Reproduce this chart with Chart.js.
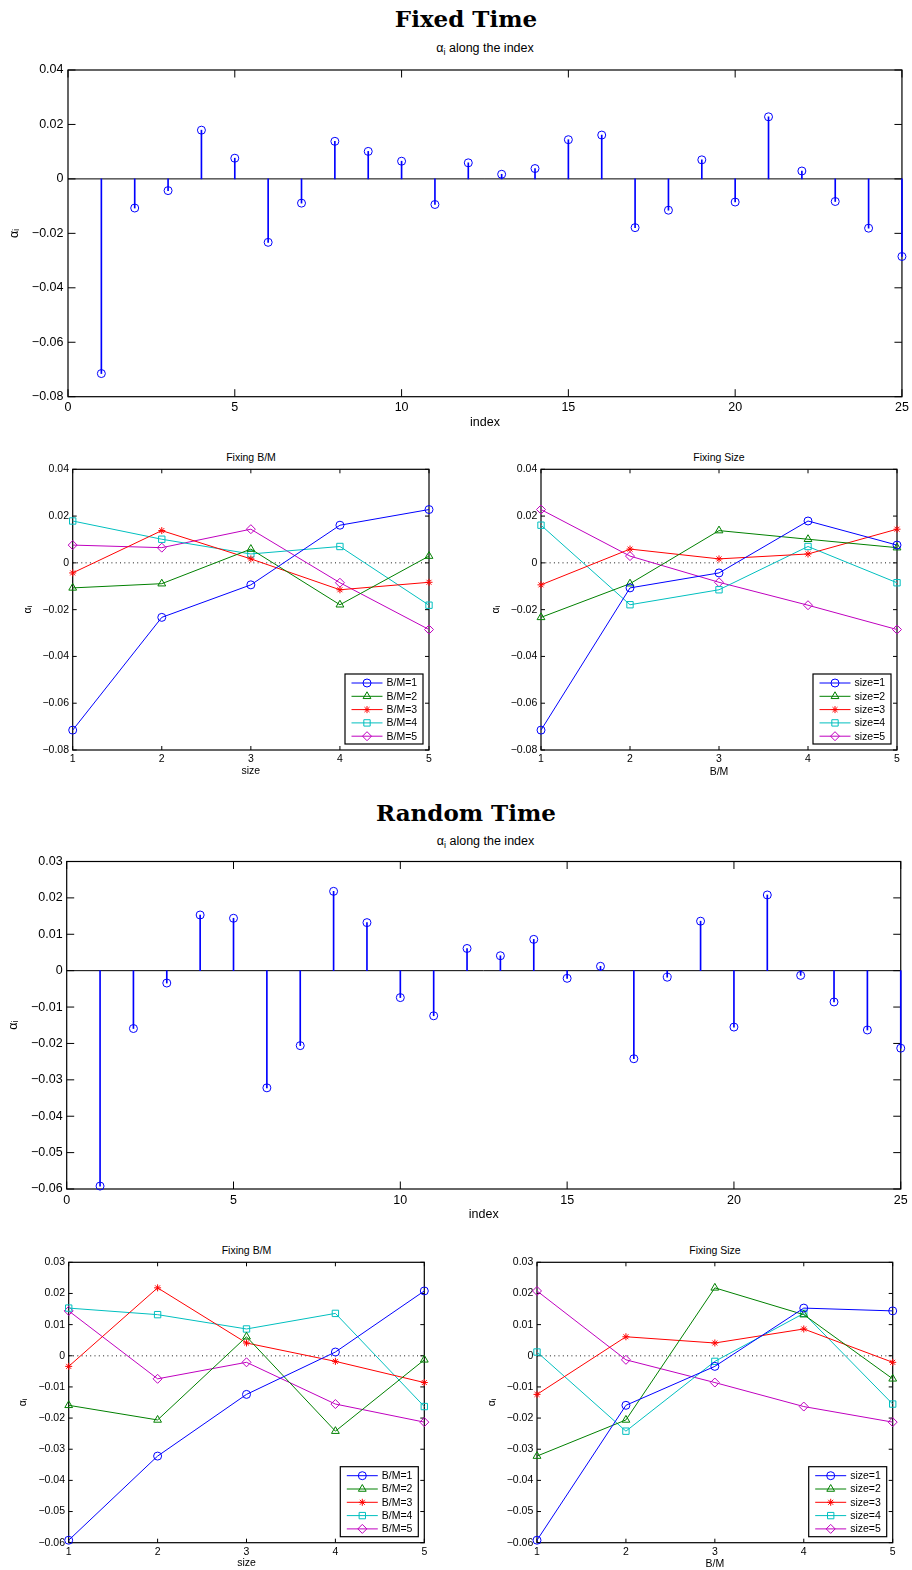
<!DOCTYPE html>
<html>
<head>
<meta charset="utf-8">
<script src="https://cdn.jsdelivr.net/npm/chart.js@4.4.1/dist/chart.umd.min.js"></script>
<style>
body { margin: 0; background: #fff; width: 912px; height: 1570px; position: relative; overflow: hidden; }
canvas { position: absolute; }
svg { position: absolute; left: 0; top: 0; }
</style>
</head>
<body>
<svg width="912" height="1570" font-family="Liberation Sans, Arial, sans-serif">
  <text x="466" y="27.3" font-family="DejaVu Serif" font-weight="bold" font-size="23" text-anchor="middle">Fixed Time</text>
  <text x="485" y="52" font-size="12.5" text-anchor="middle">α<tspan dy="3" font-size="9">i</tspan><tspan dy="-3"> along the index</tspan></text>
  <text x="251" y="461" font-size="10.5" text-anchor="middle">Fixing B/M</text>
  <text x="719" y="461" font-size="10.5" text-anchor="middle">Fixing Size</text>
  <text x="466" y="820.5" font-family="DejaVu Serif" font-weight="bold" font-size="23" text-anchor="middle">Random Time</text>
  <text x="485.5" y="845" font-size="12.5" text-anchor="middle">α<tspan dy="3" font-size="9">i</tspan><tspan dy="-3"> along the index</tspan></text>
  <text x="246.5" y="1253.5" font-size="10.5" text-anchor="middle">Fixing B/M</text>
  <text x="715" y="1253.5" font-size="10.5" text-anchor="middle">Fixing Size</text>
</svg>
<canvas id="fixedStem"></canvas>
<canvas id="fixedBM"></canvas>
<canvas id="fixedSize"></canvas>
<canvas id="randomStem"></canvas>
<canvas id="randomBM"></canvas>
<canvas id="randomSize"></canvas>
<script>
// alpha_i for the 25 portfolios, index = (size-1)*5 + B/M
const fixedAlpha = [-0.0715, -0.0107, -0.0043, 0.0179, 0.0076,
                    -0.0233, -0.0089, 0.0138, 0.0101, 0.0065,
                    -0.0094, 0.0059, 0.0017, 0.0038, 0.0144,
                    0.0161, -0.0179, -0.0115, 0.0070, -0.0085,
                    0.0228, 0.0029, -0.0083, -0.0181, -0.0285];
const randomAlpha = [-0.0592, -0.0159, -0.0034, 0.0153, 0.0144,
                     -0.0322, -0.0206, 0.0218, 0.0132, -0.0074,
                     -0.0124, 0.0061, 0.0041, 0.0086, -0.0021,
                     0.0012, -0.0242, -0.0018, 0.0136, -0.0155,
                     0.0208, -0.0013, -0.0086, -0.0163, -0.0213];
const indexValues = [1, 2, 3, 4, 5, 6, 7, 8, 9, 10, 11, 12, 13, 14, 15, 16, 17, 18, 19, 20, 21, 22, 23, 24, 25];
const groupValues = [1, 2, 3, 4, 5];
const indexTicks = [0, 5, 10, 15, 20, 25];
const fixedYTicks = [-0.08, -0.06, -0.04, -0.02, 0, 0.02, 0.04];
const randomYTicks = [-0.06, -0.05, -0.04, -0.03, -0.02, -0.01, 0, 0.01, 0.02, 0.03];
const bmLabels = ['B/M=1', 'B/M=2', 'B/M=3', 'B/M=4', 'B/M=5'];
const sizeLabels = ['size=1', 'size=2', 'size=3', 'size=4', 'size=5'];
const seriesColors = ['#0000ff', '#008000', '#ff0000', '#00bfbf', '#bf00bf'];
const seriesMarkers = ['circle', 'triangle', 'star', 'rect', 'rectRot'];
const markerRadius = [4, 4.5, 3.5, 4.5, 4.5];

const FONT = 'Liberation Sans, Arial, Helvetica, sans-serif';

function fmt(v) {
    if (Math.abs(v) < 1e-9) return '0';
    return (v < 0 ? '\u2212' : '') + Math.abs(v).toFixed(2);
}

// box, inward ticks and the zero line, like matlab axes
function matlabAxes(tickLen, zeroStyle) {
    return {
        id: 'matlabAxes',
        beforeDatasetsDraw(chart) {
            const {ctx, chartArea: a, scales: {x, y}} = chart;
            const y0 = y.getPixelForValue(0);
            ctx.save();
            if (zeroStyle === 'solid') {
                ctx.strokeStyle = '#000';
                ctx.lineWidth = 1;
            } else {
                ctx.strokeStyle = '#666';
                ctx.lineWidth = 1.5;
                ctx.setLineDash([1, 3.3]);
            }
            ctx.beginPath();
            ctx.moveTo(a.left, y0);
            ctx.lineTo(a.right, y0);
            ctx.stroke();
            ctx.setLineDash([]);
            ctx.strokeStyle = '#000';
            ctx.lineWidth = 1.2;
            ctx.strokeRect(a.left, a.top, a.right - a.left, a.bottom - a.top);
            ctx.lineWidth = 1;
            ctx.beginPath();
            x.ticks.forEach(t => {
                const px = x.getPixelForValue(t.value);
                ctx.moveTo(px, a.bottom); ctx.lineTo(px, a.bottom - tickLen);
                ctx.moveTo(px, a.top); ctx.lineTo(px, a.top + tickLen);
            });
            y.ticks.forEach(t => {
                const py = y.getPixelForValue(t.value);
                ctx.moveTo(a.left, py); ctx.lineTo(a.left + tickLen, py);
                ctx.moveTo(a.right, py); ctx.lineTo(a.right - tickLen, py);
            });
            ctx.stroke();
            ctx.restore();
        }
    };
}

// legend box in the lower right corner
function legendBox(fontSize) {
    return {
        id: 'legendBox',
        afterDatasetsDraw(chart) {
            const {ctx, chartArea: a} = chart;
            const w = 78, h = 70, rowH = 13.3;
            const x0 = a.right - 6 - w, y0 = a.bottom - 6 - h;
            ctx.save();
            ctx.fillStyle = '#fff';
            ctx.fillRect(x0, y0, w, h);
            ctx.strokeStyle = '#000';
            ctx.lineWidth = 1.2;
            ctx.strokeRect(x0, y0, w, h);
            chart.data.datasets.forEach((ds, i) => {
                const cy = y0 + 9 + i * rowH;
                ctx.strokeStyle = ds.borderColor;
                ctx.lineWidth = 1;
                ctx.beginPath();
                ctx.moveTo(x0 + 6.5, cy);
                ctx.lineTo(x0 + 37.5, cy);
                ctx.stroke();
                ctx.fillStyle = 'rgba(0,0,0,0)';
                Chart.helpers.drawPoint(ctx, {pointStyle: ds.pointStyle, radius: ds.pointRadius, borderWidth: 1, rotation: 0}, x0 + 22, cy);
                ctx.fillStyle = '#000';
                ctx.font = fontSize + 'px ' + FONT;
                ctx.textAlign = 'left';
                ctx.textBaseline = 'middle';
                ctx.fillText(ds.label, x0 + 41.5, cy + 0.5);
            });
            ctx.restore();
        }
    };
}

function makeChart(id, cell, area, o) {
    const cv = document.getElementById(id);
    cv.width = cell.w;
    cv.height = cell.h;
    cv.style.left = cell.x + 'px';
    cv.style.top = cell.y + 'px';
    const leftW = area.l - cell.x;
    const botH = cell.y + cell.h - area.b;
    const lh = o.fontSize * 1.2;
    const font = {family: FONT, size: o.fontSize, lineHeight: 1.2};
    const plugins = [matlabAxes(o.tickLen, o.zeroStyle)];
    if (o.legend) plugins.push(legendBox(o.fontSize));
    return new Chart(cv, {
        type: 'scatter',
        data: {datasets: o.datasets},
        options: {
            responsive: false,
            animation: false,
            events: [],
            layout: {padding: {top: area.t - cell.y, right: cell.x + cell.w - area.r, left: 0, bottom: 0}},
            plugins: {legend: {display: false}, tooltip: {enabled: false}, title: {display: false}},
            scales: {
                x: {
                    type: 'linear',
                    min: o.xTicks[0],
                    max: o.xTicks[o.xTicks.length - 1],
                    offset: false,
                    afterBuildTicks: s => { s.ticks = o.xTicks.map(v => ({value: v})); },
                    afterFit: s => { s.height = botH; },
                    grid: {display: false, drawTicks: false},
                    border: {display: false},
                    ticks: {color: '#000', font: font, padding: o.xTickCenter - area.b - lh / 2,
                            maxRotation: 0, autoSkip: false, callback: v => String(v)},
                    title: {display: true, text: o.xTitle, color: '#000', font: font,
                            padding: {top: 0, bottom: cell.y + cell.h - o.xTitleCenter - lh / 2}}
                },
                y: {
                    type: 'linear',
                    min: o.yTicks[0],
                    max: o.yTicks[o.yTicks.length - 1],
                    afterBuildTicks: s => { s.ticks = o.yTicks.map(v => ({value: v})); },
                    afterFit: s => { s.width = leftW; },
                    grid: {display: false, drawTicks: false},
                    border: {display: false},
                    ticks: {color: '#000', font: font, padding: o.yTickPad, autoSkip: false, callback: fmt},
                    title: {display: true, text: 'α\u1d62', color: '#000', font: font,
                            padding: {top: o.yTitleCenter - cell.x - lh / 2, bottom: 0}}
                }
            }
        },
        plugins: plugins
    });
}

function stemData(alpha) {
    const pts = indexValues.map((v, i) => ({x: v, y: alpha[i]}));
    return [
        {type: 'scatter', data: pts, pointStyle: 'circle', pointRadius: 4, borderColor: '#0000ff',
         backgroundColor: 'rgba(0,0,0,0)', pointBorderWidth: 1, clip: false},
        {type: 'bar', data: pts, backgroundColor: '#0000ff', barThickness: 1, borderWidth: 0, clip: false}
    ];
}

// series k of the "fixing" panels; byBM = true -> fixed B/M, x is size
function lineData(alpha, labels, byBM) {
    return labels.map((lab, k) => ({
        type: 'line',
        label: lab,
        data: groupValues.map((g, j) => ({x: g, y: byBM ? alpha[j * 5 + k] : alpha[k * 5 + j]})),
        borderColor: seriesColors[k],
        backgroundColor: 'rgba(0,0,0,0)',
        borderWidth: 1,
        pointStyle: seriesMarkers[k],
        pointRadius: markerRadius[k],
        pointBorderColor: seriesColors[k],
        pointBackgroundColor: 'rgba(0,0,0,0)',
        pointBorderWidth: 1,
        tension: 0,
        fill: false,
        clip: false
    }));
}

makeChart('fixedStem', {x: 0, y: 58, w: 912, h: 378}, {l: 68, t: 68.3, r: 902.3, b: 396.7}, {
    fontSize: 12.5, tickLen: 7.5, zeroStyle: 'solid', datasets: stemData(fixedAlpha),
    xTicks: indexTicks, yTicks: fixedYTicks, xTitle: 'index',
    xTickCenter: 407.3, xTitleCenter: 422.4, yTickPad: 4.5, yTitleCenter: 15
});
makeChart('fixedBM', {x: 0, y: 440, w: 456, h: 340}, {l: 72.7, t: 469.3, r: 429, b: 750}, {
    fontSize: 10.5, tickLen: 4, zeroStyle: 'dotted', legend: true, datasets: lineData(fixedAlpha, bmLabels, true),
    xTicks: groupValues, yTicks: fixedYTicks, xTitle: 'size',
    xTickCenter: 759, xTitleCenter: 771.5, yTickPad: 3.7, yTitleCenter: 28.3
});
makeChart('fixedSize', {x: 456, y: 440, w: 456, h: 340}, {l: 541, t: 469.3, r: 897, b: 750}, {
    fontSize: 10.5, tickLen: 4, zeroStyle: 'dotted', legend: true, datasets: lineData(fixedAlpha, sizeLabels, false),
    xTicks: groupValues, yTicks: fixedYTicks, xTitle: 'B/M',
    xTickCenter: 759, xTitleCenter: 772, yTickPad: 3.7, yTitleCenter: 496
});
makeChart('randomStem', {x: 0, y: 850, w: 912, h: 380}, {l: 66.7, t: 861, r: 904, b: 1189}, {
    fontSize: 12.5, tickLen: 7.5, zeroStyle: 'solid', datasets: stemData(randomAlpha),
    xTicks: indexTicks, yTicks: randomYTicks, xTitle: 'index',
    xTickCenter: 1200.8, xTitleCenter: 1214.7, yTickPad: 4, yTitleCenter: 13.3
});
makeChart('randomBM', {x: 0, y: 1240, w: 456, h: 330}, {l: 68.7, t: 1262.3, r: 424.3, b: 1542.7}, {
    fontSize: 10.5, tickLen: 4, zeroStyle: 'dotted', legend: true, datasets: lineData(randomAlpha, bmLabels, true),
    xTicks: groupValues, yTicks: randomYTicks, xTitle: 'size',
    xTickCenter: 1552, xTitleCenter: 1563.5, yTickPad: 3.7, yTitleCenter: 23.3
});
makeChart('randomSize', {x: 456, y: 1240, w: 456, h: 330}, {l: 537, t: 1262.3, r: 892.7, b: 1542.7}, {
    fontSize: 10.5, tickLen: 4, zeroStyle: 'dotted', legend: true, datasets: lineData(randomAlpha, sizeLabels, false),
    xTicks: groupValues, yTicks: randomYTicks, xTitle: 'B/M',
    xTickCenter: 1552, xTitleCenter: 1564.3, yTickPad: 3.7, yTitleCenter: 492.3
});
</script>
</body>
</html>
